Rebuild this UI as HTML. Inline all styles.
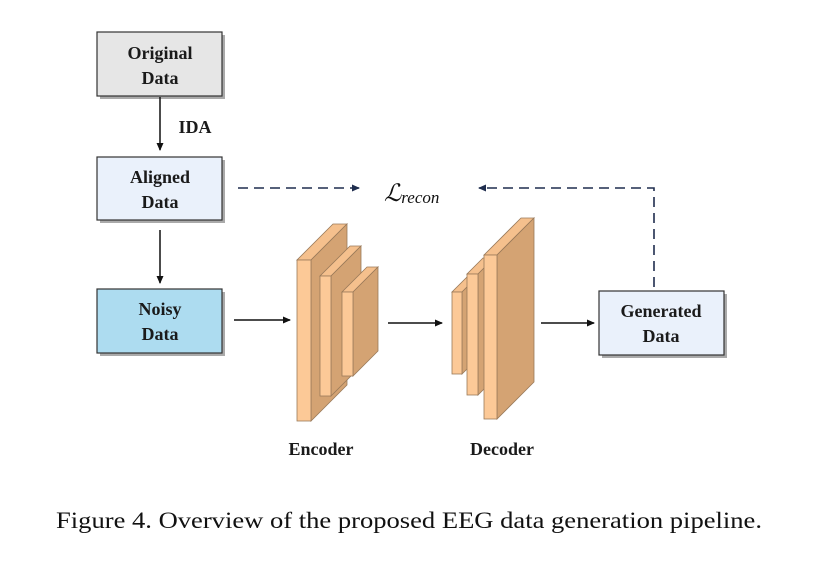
<!DOCTYPE html>
<html><head><meta charset="utf-8"><style>
html,body{margin:0;padding:0;background:#fff;}
svg{display:block;}
</style></head><body>
<svg width="817" height="566" viewBox="0 0 817 566" xmlns="http://www.w3.org/2000/svg">
<defs>
<marker id="ah" markerWidth="8" markerHeight="8" refX="7" refY="4" orient="auto" markerUnits="userSpaceOnUse"><path d="M0,0.5 L8,4 L0,7.5 Z" fill="#111"/></marker>
<marker id="ahn" markerWidth="8" markerHeight="8" refX="7" refY="4" orient="auto" markerUnits="userSpaceOnUse"><path d="M0,0.5 L8,4 L0,7.5 Z" fill="#1f2d4e"/></marker>
</defs>
<rect width="817" height="566" fill="#fff"/>
<g font-family="Liberation Serif, serif" font-weight="bold" font-size="18" fill="#1a1a1a" text-anchor="middle">
<!-- boxes with shadow -->
<rect x="100" y="35" width="125" height="64" fill="#aaa"/>
<rect x="97" y="32" width="125" height="64" fill="#e6e6e6" stroke="#333" stroke-width="1.2"/>
<text x="160" y="59">Original</text><text x="160" y="84">Data</text>
<rect x="100" y="160" width="125" height="63" fill="#aaa"/>
<rect x="97" y="157" width="125" height="63" fill="#eaf1fb" stroke="#333" stroke-width="1.2"/>
<text x="160" y="183">Aligned</text><text x="160" y="208">Data</text>
<rect x="100" y="292" width="125" height="64" fill="#aaa"/>
<rect x="97" y="289" width="125" height="64" fill="#addcf0" stroke="#333" stroke-width="1.2"/>
<text x="160" y="315">Noisy</text><text x="160" y="340">Data</text>
<rect x="602" y="294" width="125" height="64" fill="#aaa"/>
<rect x="599" y="291" width="125" height="64" fill="#eaf1fb" stroke="#333" stroke-width="1.2"/>
<text x="661" y="317">Generated</text><text x="661" y="342">Data</text>
<text x="195" y="133">IDA</text>
<text x="321" y="455">Encoder</text>
<text x="502" y="455">Decoder</text>
</g>
<!-- arrows -->
<g stroke="#111" stroke-width="1.5" fill="none">
<line x1="160" y1="97" x2="160" y2="150" marker-end="url(#ah)"/>
<line x1="160" y1="230" x2="160" y2="283" marker-end="url(#ah)"/>
<line x1="234" y1="320" x2="290" y2="320" marker-end="url(#ah)"/>
<line x1="388" y1="323" x2="442" y2="323" marker-end="url(#ah)"/>
<line x1="541" y1="323" x2="594" y2="323" marker-end="url(#ah)"/>
</g>
<g stroke="#1f2d4e" stroke-width="1.6" fill="none" stroke-dasharray="10,6">
<line x1="238" y1="188" x2="359" y2="188" marker-end="url(#ahn)"/>
<polyline points="654,287 654,188 479,188" marker-end="url(#ahn)"/>
</g>
<text x="384" y="201" font-family="DejaVu Serif, serif" font-style="italic" font-size="24" fill="#111">ℒ<tspan font-size="17" dy="2" font-family="Liberation Serif, serif">recon</tspan></text>
<!-- slabs -->
<g stroke="#9a7a5a" stroke-width="0.8">
<!-- encoder 1 -->
<polygon points="297,260 311,260 347,224 333,224" fill="#f5c08d"/>
<polygon points="311,260 347,224 347,385 311,421" fill="#d4a373"/>
<rect x="297" y="260" width="14" height="161" fill="#fcc997"/>
<!-- encoder 2 -->
<polygon points="320,276 331,276 361,246 350,246" fill="#f5c08d"/>
<polygon points="331,276 361,246 361,366 331,396" fill="#d4a373"/>
<rect x="320" y="276" width="11" height="120" fill="#fcc997"/>
<!-- encoder 3 -->
<polygon points="342,292 353,292 378,267 367,267" fill="#f5c08d"/>
<polygon points="353,292 378,267 378,351 353,376" fill="#d4a373"/>
<rect x="342" y="292" width="11" height="84" fill="#fcc997"/>
<!-- decoder 1 -->
<polygon points="452,292 462,292 477,277 467,277" fill="#f5c08d"/>
<polygon points="462,292 477,277 477,359 462,374" fill="#d4a373"/>
<rect x="452" y="292" width="10" height="82" fill="#fcc997"/>
<!-- decoder 2 -->
<polygon points="467,274 478,274 494,258 483,258" fill="#f5c08d"/>
<polygon points="478,274 494,258 494,379 478,395" fill="#d4a373"/>
<rect x="467" y="274" width="11" height="121" fill="#fcc997"/>
<!-- decoder 3 -->
<polygon points="484,255 497,255 534,218 521,218" fill="#f5c08d"/>
<polygon points="497,255 534,218 534,382 497,419" fill="#d4a373"/>
<rect x="484" y="255" width="13" height="164" fill="#fcc997"/>
</g>
<text x="56" y="528" font-family="Liberation Serif, serif" font-size="23" fill="#111" textLength="706" lengthAdjust="spacingAndGlyphs">Figure 4. Overview of the proposed EEG data generation pipeline.</text>
</svg>
</body></html>
